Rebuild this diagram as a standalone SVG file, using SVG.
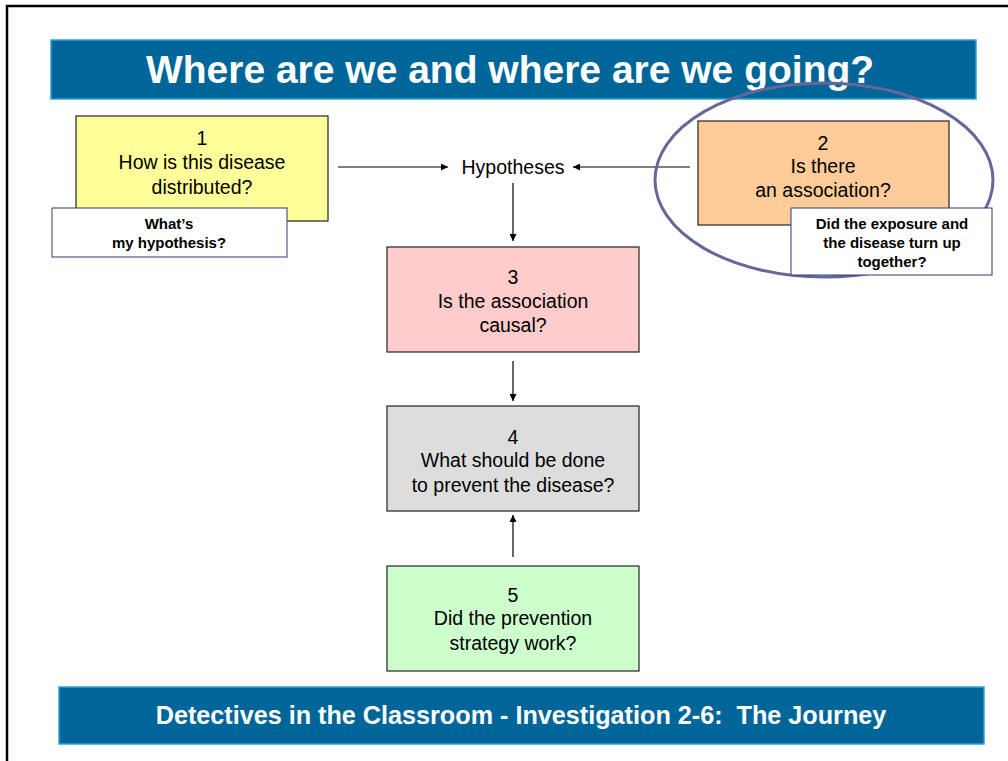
<svg xmlns="http://www.w3.org/2000/svg" width="1008" height="761" viewBox="0 0 1008 761">
  <defs>
    <marker id="arrow" viewBox="0 0 10 10" refX="10" refY="5" markerWidth="9" markerHeight="7" markerUnits="userSpaceOnUse" orient="auto">
      <path d="M0,0 L10,5 L0,10 z" fill="#000"/>
    </marker>
    <style>
      .banner { fill: #006699; stroke: #2fa3d6; stroke-width: 1.5; }
      .banner-text { font-family: "Liberation Sans", Arial, sans-serif; font-weight: bold; fill: #fff; text-anchor: middle; }
      .step { stroke: #222; stroke-width: 1.2; }
      .step-text { font-family: "Liberation Sans", Arial, sans-serif; font-size: 19.5px; fill: #000; text-anchor: middle; }
      .note { fill: #fff; stroke: #2c3e6e; stroke-width: 1; }
      .note-text { font-family: "Liberation Sans", Arial, sans-serif; font-size: 15px; font-weight: bold; fill: #000; text-anchor: middle; }
      .link { stroke: #000; stroke-width: 1.2; fill: none; marker-end: url(#arrow); }
    </style>
  </defs>

  <rect width="1008" height="761" fill="#fff"/>
  <!-- slide frame -->
  <path d="M7,761 V6 H1008" fill="none" stroke="#000" stroke-width="2.5"/>

  <!-- title banner -->
  <g id="title">
    <rect class="banner" x="51" y="40" width="925" height="59"/>
    <text class="banner-text" x="510" y="83" font-size="39">Where are we and where are we going?</text>
  </g>

  <!-- connectors -->
  <g id="connectors">
    <line class="link" x1="338" y1="167" x2="448" y2="167"/>
    <line class="link" x1="690" y1="167" x2="573" y2="167"/>
    <line class="link" x1="513" y1="183" x2="513" y2="241"/>
    <line class="link" x1="513" y1="361" x2="513" y2="401"/>
    <line class="link" x1="513" y1="557" x2="513" y2="515"/>
  </g>

  <!-- step 1 -->
  <g id="step1">
    <rect class="step" x="76" y="116" width="252" height="105" fill="#ffff99"/>
    <text class="step-text" x="202" y="145">1</text>
    <text class="step-text" x="202" y="169">How is this disease</text>
    <text class="step-text" x="202" y="194">distributed?</text>
  </g>
  <g id="note1">
    <rect class="note" x="52" y="208" width="235" height="49"/>
    <text class="note-text" x="169" y="229">What’s</text>
    <text class="note-text" x="169" y="248">my hypothesis?</text>
  </g>

  <!-- hypotheses hub -->
  <g id="hypotheses">
    <text class="step-text" x="513" y="174">Hypotheses</text>
  </g>

  <!-- step 2 -->
  <g id="step2">
    <rect class="step" x="698" y="121" width="251" height="104" fill="#ffcc99"/>
    <text class="step-text" x="823" y="150">2</text>
    <text class="step-text" x="823" y="173">Is there</text>
    <text class="step-text" x="823" y="197">an association?</text>
  </g>

  <!-- highlight ring around step 2 -->
  <g id="highlight">
    <ellipse cx="824" cy="180" rx="169" ry="97" fill="none" stroke="#666699" stroke-width="3"/>
  </g>

  <g id="note2">
    <rect class="note" x="791" y="208" width="201" height="67"/>
    <text class="note-text" x="892" y="229">Did the exposure and</text>
    <text class="note-text" x="892" y="248">the disease turn up</text>
    <text class="note-text" x="892" y="267">together?</text>
  </g>

  <!-- step 3 -->
  <g id="step3">
    <rect class="step" x="387" y="247" width="252" height="105" fill="#ffcccc"/>
    <text class="step-text" x="513" y="284">3</text>
    <text class="step-text" x="513" y="308">Is the association</text>
    <text class="step-text" x="513" y="332">causal?</text>
  </g>

  <!-- step 4 -->
  <g id="step4">
    <rect class="step" x="387" y="406" width="252" height="105" fill="#dddddd"/>
    <text class="step-text" x="513" y="444">4</text>
    <text class="step-text" x="513" y="467">What should be done</text>
    <text class="step-text" x="513" y="492">to prevent the disease?</text>
  </g>

  <!-- step 5 -->
  <g id="step5">
    <rect class="step" x="387" y="566" width="252" height="105" fill="#ccffcc"/>
    <text class="step-text" x="513" y="602">5</text>
    <text class="step-text" x="513" y="625">Did the prevention</text>
    <text class="step-text" x="513" y="650">strategy work?</text>
  </g>

  <!-- footer banner -->
  <g id="footer">
    <rect class="banner" x="59" y="687" width="925" height="57"/>
    <text class="banner-text" x="521" y="724" font-size="25.2" xml:space="preserve">Detectives in the Classroom - Investigation 2-6:  The Journey</text>
  </g>
</svg>
